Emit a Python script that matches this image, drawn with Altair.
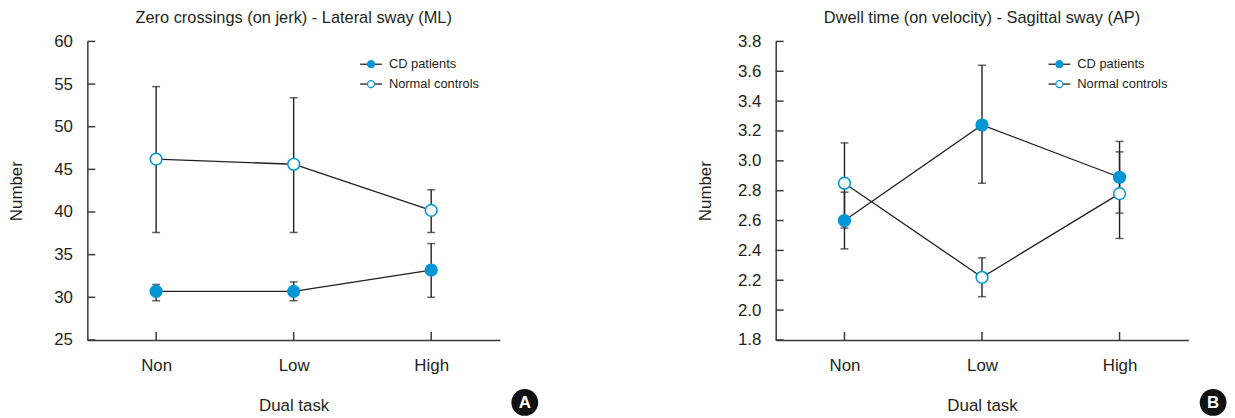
import altair as alt
import pandas as pd

# ---- data ----
tasks = ["Non", "Low", "High"]
series = ["CD patients", "Normal controls"]

# Panel A: Zero crossings (on jerk) - Lateral sway (ML)
a_cd_mean = [30.7, 30.7, 33.2]
a_cd_low = [29.6, 29.6, 30.0]
a_cd_high = [31.5, 31.8, 36.3]
a_nc_mean = [46.2, 45.6, 40.2]
a_nc_low = [37.6, 37.6, 37.6]
a_nc_high = [54.7, 53.4, 42.6]
a_ticks = [25, 30, 35, 40, 45, 50, 55, 60]

# Panel B: Dwell time (on velocity) - Sagittal sway (AP)
b_cd_mean = [2.60, 3.24, 2.89]
b_cd_low = [2.41, 2.85, 2.65]
b_cd_high = [2.79, 3.64, 3.13]
b_nc_mean = [2.85, 2.22, 2.78]
b_nc_low = [2.55, 2.09, 2.48]
b_nc_high = [3.12, 2.35, 3.06]
b_ticks = [1.8, 2.0, 2.2, 2.4, 2.6, 2.8, 3.0, 3.2, 3.4, 3.6, 3.8]

BLUE = "#0096d6"
INK = "#231f20"
AXC = "#3a3a3a"
FONT = "Liberation Sans"
W, H = 416, 301


def panel(title, cd_mean, cd_low, cd_high, nc_mean, nc_low, nc_high,
          yticks, yfmt, ytitle_pad, letter):
    rows = []
    for s, m, lo, hi in [(series[0], cd_mean, cd_low, cd_high),
                         (series[1], nc_mean, nc_low, nc_high)]:
        for t, mv, l, h in zip(tasks, m, lo, hi):
            rows.append(dict(task=t, series=s, mean=mv, low=l, high=h))
    df = pd.DataFrame(rows)
    ydom = [min(yticks), max(yticks)]
    yscale = alt.Scale(domain=ydom, nice=False, zero=False)
    xscale = alt.Scale(type="point", padding=0.5)

    xaxis = alt.Axis(title="Dual task", labelAngle=0, ticks=False,
                     grid=False, domainColor=AXC, domainWidth=1.5,
                     labelPadding=18, titlePadding=24)
    yaxis = alt.Axis(title="Number", values=yticks, format=yfmt,
                     ticks=False, grid=False, domainColor=AXC,
                     domainWidth=1.5, labelPadding=15,
                     titlePadding=ytitle_pad)

    def X(field="task"):
        return alt.X(f"{field}:N", sort=tasks, scale=xscale, axis=xaxis)

    def Y(field):
        return alt.Y(f"{field}:Q", scale=yscale, axis=yaxis)

    # inward tick marks
    yt = pd.DataFrame({"mean": yticks})
    ytick_layer = alt.Chart(yt).mark_rule(color=AXC, strokeWidth=1.5).encode(
        y=Y("mean"), x=alt.value(0), x2=alt.value(8))
    xt = pd.DataFrame({"task": tasks})
    xtick_layer = alt.Chart(xt).mark_rule(color=AXC, strokeWidth=1.5).encode(
        x=X(), y=alt.value(H), y2=alt.value(H - 8))

    base = alt.Chart(df)
    lines = base.mark_line(color=INK, strokeWidth=1.3).encode(
        x=X(), y=Y("mean"), detail="series:N")
    bars = base.mark_rule(color=INK, strokeWidth=1.4).encode(
        x=X(), y=Y("low"), y2="high:Q")
    cap_lo = base.mark_tick(color=INK, size=8, thickness=1.5).encode(
        x=X(), y=Y("low"))
    cap_hi = base.mark_tick(color=INK, size=8, thickness=1.5).encode(
        x=X(), y=Y("high"))
    pts = base.mark_point(filled=True, shape="circle", size=140, opacity=1,
                          strokeWidth=1.5).encode(
        x=X(), y=Y("mean"),
        fill=alt.Fill("series:N", scale=alt.Scale(domain=series,
                                                  range=[BLUE, "white"]),
                      legend=None),
        stroke=alt.value(BLUE))

    # manual legend (line + marker + label)
    leg = []
    for i, s in enumerate(series):
        d = pd.DataFrame({"series": [s]})
        yy = 23 + 20 * i
        leg.append(alt.Chart(d).mark_rule(color=INK, strokeWidth=1.3).encode(
            x=alt.value(275), x2=alt.value(297), y=alt.value(yy)))
        leg.append(alt.Chart(d).mark_point(filled=True, shape="circle", size=50,
                                           opacity=1, strokeWidth=1.2).encode(
            x=alt.value(286), y=alt.value(yy),
            fill=alt.value(BLUE if i == 0 else "white"), stroke=alt.value(BLUE)))
        leg.append(alt.Chart(d).mark_text(align="left", baseline="middle",
                                          font=FONT, fontSize=13, color=INK).encode(
            x=alt.value(304), y=alt.value(yy), text="series:N"))

    # panel letter badge
    ld = pd.DataFrame({"letter": [letter]})
    badge = alt.Chart(ld).mark_point(filled=True, shape="circle", size=729,
                                     color="#111111", opacity=1).encode(
        x=alt.value(441), y=alt.value(364))
    badge_t = alt.Chart(ld).mark_text(align="center", baseline="middle",
                                      font=FONT, fontSize=17, fontWeight="bold",
                                      color="white").encode(
        x=alt.value(441), y=alt.value(365), text="letter:N")

    return alt.layer(lines, ytick_layer, xtick_layer, bars, cap_lo, cap_hi, pts,
                     *leg, badge, badge_t).properties(
        width=W, height=H,
        title=alt.TitleParams(title, font=FONT, fontSize=16.5,
                              fontWeight="normal", color=INK, offset=6))


pa = panel("Zero crossings (on jerk) - Lateral sway (ML)",
           a_cd_mean, a_cd_low, a_cd_high, a_nc_mean, a_nc_low, a_nc_high,
           a_ticks, "d", 28, "A")
pb = panel("Dwell time (on velocity) - Sagittal sway (AP)",
           b_cd_mean, b_cd_low, b_cd_high, b_nc_mean, b_nc_low, b_nc_high,
           b_ticks, ".1f", 23.5, "B")

chart = alt.hconcat(pa, pb, spacing=158).properties(padding=0).configure_view(
    stroke=None).configure_axis(
    labelFont=FONT, labelFontSize=17, labelColor=INK,
    titleFont=FONT, titleFontSize=17, titleColor=INK, titleFontWeight="normal")

chart.save("out.html", embed_options={"renderer": "svg", "actions": False})
